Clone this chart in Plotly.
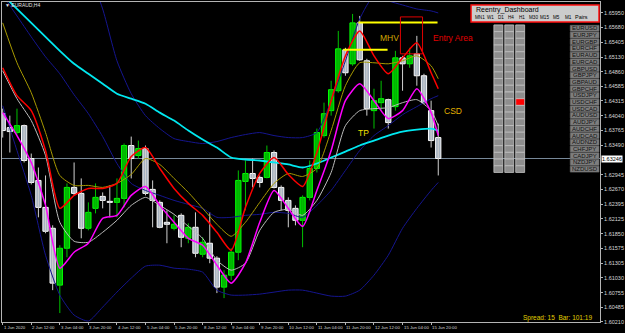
import plotly.graph_objects as go

# ---------------- data (EURAUD H4) ----------------
BARS = list(range(62))
OPEN = [1.64079, 1.63820, 1.63728, 1.63857, 1.63246, 1.62839, 1.62338, 1.61950, 1.60894, 1.61579,
        1.62709, 1.62598, 1.61950, 1.62320, 1.62542, 1.62450, 1.62431, 1.62505, 1.63487, 1.63301,
        1.63431, 1.62672, 1.62431, 1.62061, 1.61950, 1.62190, 1.61764, 1.61968, 1.61468, 1.61672,
        1.61394, 1.60857, 1.61079, 1.61505, 1.62820, 1.62968, 1.62894, 1.62894, 1.63357, 1.62709,
        1.62468, 1.62320, 1.62098, 1.62524, 1.63061, 1.63672, 1.64135, 1.64505, 1.65265, 1.65005,
        1.65765, 1.65061, 1.64135, 1.64283, 1.64339, 1.64209, 1.65116, 1.65005, 1.65190, 1.64783,
        1.64135, 1.63635]
HIGH = [1.64172, 1.64042, 1.64172, 1.63876, 1.63338, 1.63079, 1.62931, 1.62005, 1.61635, 1.62783,
        1.63172, 1.62876, 1.62431, 1.62783, 1.62616, 1.62746, 1.62876, 1.63524, 1.63653, 1.63579,
        1.63487, 1.62839, 1.62468, 1.62283, 1.62190, 1.62227, 1.62042, 1.62246, 1.61783, 1.62246,
        1.61431, 1.61172, 1.61579, 1.63024, 1.63209, 1.63246, 1.62931, 1.63487, 1.63394, 1.62746,
        1.62524, 1.62375, 1.62561, 1.63209, 1.63802, 1.64283, 1.64690, 1.65616, 1.65302, 1.65931,
        1.65894, 1.65098, 1.64542, 1.64690, 1.64357, 1.65246, 1.65153, 1.65302, 1.65524, 1.64820,
        1.64320, 1.63894]
LOW = [1.63635, 1.63357, 1.63691, 1.63172, 1.62764, 1.62153, 1.61857, 1.60801, 1.60375, 1.61412,
       1.62561, 1.61764, 1.61912, 1.62227, 1.62320, 1.62153, 1.62153, 1.62338, 1.62876, 1.63246,
       1.62561, 1.61968, 1.61950, 1.61672, 1.61912, 1.61598, 1.61672, 1.61412, 1.61412, 1.61301,
       1.60746, 1.60653, 1.60986, 1.61357, 1.62283, 1.62709, 1.62709, 1.62876, 1.62690, 1.62283,
       1.61968, 1.62005, 1.61598, 1.62468, 1.62987, 1.63635, 1.64042, 1.64468, 1.64783, 1.64968,
       1.65061, 1.64042, 1.63802, 1.64135, 1.63802, 1.64135, 1.64505, 1.64931, 1.64598, 1.64264,
       1.63450, 1.62931]
CLOSE = [1.63765, 1.63746, 1.63857, 1.63209, 1.62801, 1.62338, 1.61894, 1.60931, 1.61579, 1.62709,
         1.62598, 1.61950, 1.62246, 1.62524, 1.62468, 1.62431, 1.62505, 1.63487, 1.63246, 1.63431,
         1.62598, 1.62468, 1.61968, 1.62024, 1.62024, 1.61783, 1.61968, 1.61486, 1.61690, 1.61394,
         1.60857, 1.61079, 1.61505, 1.62839, 1.62968, 1.62876, 1.62801, 1.63357, 1.62709, 1.62468,
         1.62283, 1.62098, 1.62524, 1.63061, 1.63728, 1.64079, 1.64524, 1.65283, 1.64839, 1.65765,
         1.65079, 1.64172, 1.64320, 1.64357, 1.63913, 1.65116, 1.65005, 1.65153, 1.64783, 1.64283,
         1.63579, 1.63246]

# indicator values, read at these bars
LINE_BARS = [0, 2, 4, 6, 8, 10, 12, 14, 16, 18, 20, 22, 24, 26, 28, 30, 32, 34, 36, 38, 40,
             42, 44, 46, 48, 50, 52, 54, 56, 58, 60, 61]
RED = [1.64931, 1.64413, 1.64135, 1.63394, 1.62320, 1.62561, 1.62690, 1.62690, 1.62783, 1.63283,
       1.63450, 1.63061, 1.62690, 1.62412, 1.62190, 1.61875, 1.61542, 1.62338, 1.62968, 1.63264,
       1.62950, 1.62727, 1.63357, 1.64320, 1.65153, 1.65616, 1.65153, 1.64820, 1.65116, 1.65394,
       1.64839, 1.64542]
MAGENTA = [1.64098, 1.63672, 1.63172, 1.62375, 1.61209, 1.61505, 1.61672, 1.62135, 1.62190, 1.62561,
           1.62727, 1.62375, 1.62061, 1.61764, 1.61635, 1.61264, 1.60931, 1.61301, 1.62061, 1.62653,
           1.62320, 1.61986, 1.62653, 1.63394, 1.64320, 1.64635, 1.64320, 1.63987, 1.64135, 1.64542,
           1.64098, 1.63672]
GREY = [1.64876, 1.64357, 1.63950, 1.63301, 1.62061, 1.61709, 1.61690, 1.61875, 1.62098, 1.62375,
        1.62524, 1.62375, 1.62209, 1.61986, 1.61764, 1.61357, 1.61172, 1.61301, 1.61912, 1.62246,
        1.62301, 1.62190, 1.62468, 1.62987, 1.63857, 1.64135, 1.64172, 1.64190, 1.64283, 1.64339,
        1.64135, 1.63857]
OLIVE = [1.65765, 1.65024, 1.64468, 1.63728, 1.62931, 1.62746, 1.62746, 1.62709, 1.62783, 1.62950,
         1.63246, 1.63135, 1.62876, 1.62616, 1.62320, 1.62024, 1.61801, 1.62061, 1.62431, 1.62783,
         1.62968, 1.62912, 1.63061, 1.63765, 1.64598, 1.65024, 1.65024, 1.65005, 1.65061, 1.65153,
         1.64968, 1.64727]
CYAN = [1.66283, 1.66024, 1.65765, 1.65505, 1.65246, 1.65005, 1.64820, 1.64635, 1.64450, 1.64357,
        1.64264, 1.64098, 1.63950, 1.63765, 1.63598, 1.63450, 1.63264, 1.63227, 1.63209, 1.63172,
        1.63135, 1.63079, 1.63153, 1.63264, 1.63375, 1.63487, 1.63579, 1.63672, 1.63746, 1.63783,
        1.63802, 1.63765]
BB_MID = [1.66283, 1.65894, 1.65505, 1.65135, 1.64820, 1.64431, 1.64079, 1.63653, 1.63153, 1.62783,
          1.62653, 1.62561, 1.62468, 1.62394, 1.62320, 1.62153, 1.62153, 1.62190, 1.62209, 1.62246,
          1.62227, 1.62153, 1.62375, 1.62653, 1.63024, 1.63394, 1.63672, 1.63857, 1.64061, 1.64209,
          1.64357, 1.64413]
BB_UP = [1.69135, 1.68765, 1.68394, 1.68024, 1.67654, 1.67246, 1.66728, 1.66024, 1.65061, 1.64450,
         1.64042, 1.63802, 1.63616, 1.63561, 1.63524, 1.63561, 1.63635, 1.63691, 1.63728, 1.63672,
         1.63635, 1.63635, 1.63728, 1.64320, 1.65061, 1.65839, 1.66265, 1.66172, 1.66098, 1.66024,
         1.65987, 1.65950]
BB_LOW = [1.64227, 1.63394, 1.62561, 1.61449, 1.60709, 1.60338, 1.60227, 1.60486, 1.60764, 1.61023,
          1.61246, 1.61264, 1.61209, 1.61190, 1.61135, 1.60801, 1.60709, 1.60709, 1.60727, 1.60764,
          1.60801, 1.60801, 1.60746, 1.60690, 1.60690, 1.60801, 1.61079, 1.61449, 1.61950, 1.62320,
          1.62653, 1.62801]

Y_TICKS = [1.65950, 1.65680, 1.65405, 1.65130, 1.64860, 1.64585, 1.64315, 1.64040, 1.63765,
           1.63490, 1.62945, 1.62670, 1.62395, 1.62125, 1.61850, 1.61575, 1.61305, 1.61030,
           1.60755, 1.60485, 1.60210]
X_TICK_BARS = [0, 4, 8, 12, 16, 20, 24, 28, 32, 36, 40, 44, 48, 52, 56, 60]
X_TICK_TEXT = ["1 Jun 2020", "2 Jun 12:00", "3 Jun 04:00", "3 Jun 20:00", "4 Jun 12:00",
               "5 Jun 04:00", "5 Jun 20:00", "8 Jun 12:00", "9 Jun 04:00", "9 Jun 20:00",
               "10 Jun 12:00", "11 Jun 04:00", "11 Jun 20:00", "12 Jun 12:00", "15 Jun 04:00",
               "15 Jun 20:00"]

# hand drawn objects (price levels / bar spans)
ZONE_LEVELS = [1.65770, 1.65265]
ZONE_X0 = [49.8, 47.7]
ZONE_X1 = [60.9, 53.9]
ENTRY_BOX_X = [55.7, 58.8]
ENTRY_BOX_Y = [1.65190, 1.65876]
LABEL_TEXT = ["MHV", "Entry Area", "CSD", "TP"]
LABEL_BAR = [54.2, 63.0, 63.1, 50.6]
LABEL_PRICE = [1.65487, 1.65487, 1.64135, 1.63728]
LABEL_COLOR = ["#d4a800", "#e00000", "#e0b000", "#f0e000"]

PAIRS = ["EURUSD", "EURJPY", "EURGBP", "EURCHF", "EURAUD", "EURCAD", "GBPUSD", "GBPJPY",
         "GBPAUD", "GBPCHF", "USDJPY", "USDCHF", "USDCAD", "AUDUSD", "AUDJPY", "AUDCHF",
         "AUDCAD", "AUDNZD", "CHFJPY", "CADJPY", "NZDJPY", "NZDUSD"]
TIMEFRAMES = ["MN1", "W1", "D1", "H4", "H1", "M30", "M15", "M5", "M1", "Pairs"]
DASH_COLUMNS = ["D1", "H4", "H1"]
SIGNAL_COL = ["H1"]
SIGNAL_PAIR = ["USDCHF"]
SPREAD = 15
BAR_TIMER = "101:19"

# ---------------- layout geometry (pixels) ----------------
W, H = 625, 333
PL, PR, PT, PB = 1, 604, 1, 322
BAR_PX = 7.2
BAR0_PX = 1.7
X_RANGE = [(PL - BAR0_PX) / BAR_PX, (PR - BAR0_PX) / BAR_PX]
Y_RANGE = [1.60209, 1.66153]


def fx(x):
    return (x - PL) / (PR - PL)


def fy(y):
    return 1 - (y - PT) / (PB - PT)


fig = go.Figure()

# ---- candles ----
bull = [i for i in BARS if CLOSE[i] >= OPEN[i]]
bear = [i for i in BARS if CLOSE[i] < OPEN[i]]


def wicks(idx):
    xs, ys = [], []
    for i in idx:
        xs += [i, i, None]
        ys += [LOW[i], HIGH[i], None]
    return xs, ys


for idx, col in ((bull, "#00c000"), (bear, "#d0d0d0")):
    wx, wy = wicks(idx)
    fig.add_trace(go.Scatter(x=wx, y=wy, mode="lines", line=dict(color=col, width=1),
                             hoverinfo="skip", showlegend=False))

fig.add_trace(go.Bar(x=bull, base=[OPEN[i] for i in bull],
                     y=[CLOSE[i] - OPEN[i] for i in bull], width=0.74,
                     marker=dict(color="#00b400", line=dict(color="#00ff00", width=1)),
                     hoverinfo="skip", showlegend=False))
fig.add_trace(go.Bar(x=bear, base=[CLOSE[i] for i in bear],
                     y=[OPEN[i] - CLOSE[i] for i in bear], width=0.74,
                     marker=dict(color="#a6b2c0", line=dict(color="#ffffff", width=1)),
                     hoverinfo="skip", showlegend=False))

# ---- indicator lines ----
lines = [
    (BB_UP, "#15158f", 1), (BB_MID, "#15158f", 1), (BB_LOW, "#15158f", 1),
    (CYAN, "#00e8f0", 1.8), (OLIVE, "#a89a00", 1), (GREY, "#bcbcbc", 1),
    (MAGENTA, "#ff00ff", 1.5), (RED, "#ff0000", 1.5),
]
for vals, col, w in lines:
    fig.add_trace(go.Scatter(x=LINE_BARS, y=vals, mode="lines",
                             line=dict(color=col, width=w, shape="spline", smoothing=0.6),
                             hoverinfo="skip", showlegend=False))

shapes = []
annotations = []

# bid line
shapes.append(dict(type="line", xref="paper", yref="y", x0=0, x1=1, y0=CLOSE[-1], y1=CLOSE[-1],
                   line=dict(color="#778899", width=1), layer="below"))

# zone lines and entry box
for lvl, a, b in zip(ZONE_LEVELS, ZONE_X0, ZONE_X1):
    shapes.append(dict(type="line", xref="x", yref="y", x0=a, x1=b, y0=lvl, y1=lvl,
                       line=dict(color="#ffff00", width=2)))
shapes.append(dict(type="rect", xref="x", yref="y", x0=ENTRY_BOX_X[0], x1=ENTRY_BOX_X[1],
                   y0=ENTRY_BOX_Y[0], y1=ENTRY_BOX_Y[1], line=dict(color="#e00000", width=1)))
for t, bx, pr, c in zip(LABEL_TEXT, LABEL_BAR, LABEL_PRICE, LABEL_COLOR):
    annotations.append(dict(x=bx, y=pr, xref="x", yref="y", text=t, showarrow=False,
                            font=dict(family="Liberation Sans", size=8.5, color=c)))

# ---- dashboard ----
shapes.append(dict(type="rect", xref="paper", yref="paper", x0=fx(474), x1=fx(603),
                   y0=fy(21), y1=fy(4), fillcolor="#cccccc",
                   line=dict(color="#ff1010", width=1.5)))
annotations.append(dict(xref="paper", yref="paper", x=fx(477), y=fy(9.5), xanchor="left",
                        yanchor="middle", text="Reentry_Dashboard", showarrow=False,
                        font=dict(family="Liberation Sans", size=7, color="#000000")))
TF_PX = [476, 488, 499, 509, 520, 530, 541.5, 555, 566.5, 577]
for t, xp in zip(TIMEFRAMES, TF_PX):
    annotations.append(dict(xref="paper", yref="paper", x=fx(xp), y=fy(16.5), xanchor="left",
                            yanchor="middle", text=t, showarrow=False,
                            font=dict(family="Liberation Sans",
                                      size=5.5 if t == "Pairs" else 4.6, color="#000000")))
COL_PX = {"D1": (497, 506), "H4": (508, 517), "H1": (519, 528)}
ROW_TOP, ROW_BOT = 24, 172
rh = (ROW_BOT - ROW_TOP) / len(PAIRS)
for c in DASH_COLUMNS:
    x0, x1 = COL_PX[c]
    for r, p in enumerate(PAIRS):
        red = (c in SIGNAL_COL and p in SIGNAL_PAIR)
        shapes.append(dict(type="rect", xref="paper", yref="paper", x0=fx(x0), x1=fx(x1),
                           y0=fy(ROW_TOP + (r + 1) * rh), y1=fy(ROW_TOP + r * rh),
                           fillcolor="#ff0000" if red else "#8e8e8e",
                           line=dict(color="#c4c4c4", width=0.8)))
for r, p in enumerate(PAIRS):
    shapes.append(dict(type="rect", xref="paper", yref="paper", x0=fx(574), x1=fx(603),
                       y0=fy(ROW_TOP + (r + 1) * rh - 0.4), y1=fy(ROW_TOP + r * rh + 0.4),
                       fillcolor="#7e7e7e", line=dict(color="#6a6a6a", width=0.6)))
    annotations.append(dict(xref="paper", yref="paper", x=fx(588.5), y=fy(ROW_TOP + (r + 0.5) * rh),
                            text=p, showarrow=False, xanchor="center", yanchor="middle",
                            font=dict(family="Liberation Sans", size=6, color="#101010")))

# spread / bar timer
annotations.append(dict(xref="paper", yref="paper", x=fx(598), y=fy(318), xanchor="right",
                        yanchor="middle", text=f"Spread: {SPREAD}  Bar: {BAR_TIMER}",
                        showarrow=False,
                        font=dict(family="Liberation Sans", size=6.5, color="#e0d000")))
# symbol caption
annotations.append(dict(xref="paper", yref="paper", x=fx(2), y=fy(4.5), xanchor="left",
                        yanchor="middle", text="▼ EURAUD,H4", showarrow=False,
                        font=dict(family="Liberation Sans", size=5, color="#e0e0e0")))
# current price tag
annotations.append(dict(xref="paper", yref="y", x=1, y=CLOSE[-1], xanchor="left", xshift=1,
                        yanchor="middle", text=f"{CLOSE[-1]:.5f}", showarrow=False,
                        bgcolor="#ffffff", borderpad=0,
                        font=dict(family="Liberation Sans", size=5.5, color="#000000")))
# time labels
for b, t in zip(X_TICK_BARS, X_TICK_TEXT):
    annotations.append(dict(xref="x", yref="paper", x=b, y=0, xanchor="left", yanchor="top",
                            xshift=-1, yshift=-1, text=t, showarrow=False,
                            font=dict(family="Liberation Sans", size=4.3, color="#d8d8d8")))

fig.update_layout(
    width=W, height=H,
    margin=dict(l=PL, r=W - PR, t=PT, b=H - PB),
    paper_bgcolor="#000000", plot_bgcolor="#000000",
    barmode="overlay", showlegend=False,
    shapes=shapes, annotations=annotations,
    xaxis=dict(range=X_RANGE, showgrid=False, zeroline=False, showline=True, mirror=True,
               linecolor="#b4b4b4", linewidth=1, tickvals=X_TICK_BARS, showticklabels=False,
               ticks="outside", ticklen=2, tickcolor="#b4b4b4", fixedrange=True),
    yaxis=dict(range=Y_RANGE, side="right", showgrid=False, zeroline=False, showline=True,
               mirror=True, linecolor="#b4b4b4", linewidth=1, tickvals=Y_TICKS,
               ticktext=[f"{v:.5f}" for v in Y_TICKS], ticks="outside", ticklen=2,
               tickcolor="#b4b4b4",
               tickfont=dict(family="Liberation Sans", size=5.5, color="#d8d8d8"),
               fixedrange=True),
)

fig.write_html("out.html")
